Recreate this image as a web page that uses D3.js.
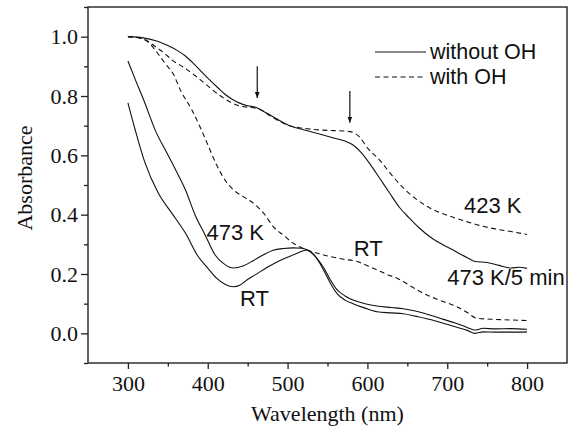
<!DOCTYPE html>
<html>
<head>
<meta charset="utf-8">
<script src="https://cdn.jsdelivr.net/npm/d3@7"></script>
<style>
  html, body { margin: 0; padding: 0; background: #fff; }
  svg { display: block; }
</style>
</head>
<body>
<svg id="chart" width="572" height="430"></svg>
<script>
// Absorption spectra: wavelength (nm) vs absorbance
const xTicks = [300, 400, 500, 600, 700, 800];
const yTicks = [0.0, 0.2, 0.4, 0.6, 0.8, 1.0];

// without OH, 423 K (solid)
const wl423 = [300, 321, 335, 350, 362, 372, 382, 392, 402, 413, 422, 430, 440, 450, 460, 470, 485, 500, 520, 540, 560, 572, 582, 592, 604, 616, 628, 640, 652, 665, 680, 695, 710, 725, 735, 750, 765, 780, 790, 800];
const abs423 = [1.0, 0.995, 0.986, 0.97, 0.953, 0.935, 0.91, 0.882, 0.855, 0.827, 0.805, 0.79, 0.776, 0.767, 0.762, 0.748, 0.725, 0.703, 0.686, 0.672, 0.657, 0.648, 0.635, 0.61, 0.568, 0.52, 0.472, 0.425, 0.39, 0.355, 0.322, 0.298, 0.277, 0.255, 0.242, 0.239, 0.229, 0.22, 0.223, 0.219];

// with OH, 423 K (dashed)
const wl423oh = [300, 315, 325, 335, 345, 355, 372, 392, 413, 430, 442, 455, 465, 480, 500, 515, 530, 550, 570, 580, 590, 600, 615, 630, 645, 660, 680, 700, 720, 740, 760, 780, 800];
const abs423oh = [1.0, 0.995, 0.985, 0.965, 0.946, 0.922, 0.893, 0.852, 0.806, 0.777, 0.765, 0.761, 0.755, 0.73, 0.702, 0.693, 0.688, 0.684, 0.682, 0.679, 0.662, 0.625, 0.585, 0.535, 0.49, 0.455, 0.42, 0.398, 0.38, 0.364, 0.352, 0.343, 0.333];

// without OH, 473 K (solid)
const wl473 = [300, 310, 320, 335, 348, 360, 372, 384, 397, 409, 420, 432, 445, 457, 470, 482, 495, 507, 518, 528, 537, 545, 553, 561, 572, 582, 597, 612, 630, 645, 660, 680, 695, 710, 725, 735, 745, 760, 780, 800];
const abs473 = [0.918, 0.85, 0.785, 0.68, 0.612, 0.55, 0.484, 0.40, 0.33, 0.265, 0.235, 0.22, 0.228, 0.245, 0.265, 0.28, 0.286, 0.288, 0.287, 0.276, 0.252, 0.222, 0.183, 0.15, 0.126, 0.112, 0.1, 0.092, 0.087, 0.083, 0.075, 0.06, 0.047, 0.035, 0.02, 0.011, 0.017, 0.015, 0.016, 0.0135];

// without OH, RT (solid)
const wlRT = [300, 309, 321, 338, 355, 372, 388, 400, 411, 422, 432, 440, 449, 460, 474, 490, 503, 512, 524, 532, 540, 548, 555, 562, 572, 582, 597, 612, 630, 645, 660, 680, 695, 710, 725, 735, 745, 760, 780, 800];
const absRT = [0.777, 0.687, 0.578, 0.473, 0.405, 0.338, 0.259, 0.22, 0.186, 0.165, 0.157, 0.162, 0.18, 0.198, 0.222, 0.245, 0.26, 0.27, 0.281, 0.268, 0.238, 0.198, 0.162, 0.134, 0.112, 0.1, 0.085, 0.073, 0.069, 0.066, 0.058, 0.046, 0.034, 0.022, 0.01, 0.0, 0.005, 0.004, 0.004, 0.005];

// with OH, 473 K / 5 min (dashed)
const wl473oh = [300, 315, 328, 337, 346, 357, 367, 380, 390, 401, 411, 422, 432, 445, 457, 470, 482, 495, 507, 524, 540, 553, 570, 587, 600, 612, 625, 637, 655, 670, 690, 712, 725, 737, 760, 780, 800];
const abs473oh = [1.0, 0.996, 0.975, 0.945, 0.912, 0.873, 0.813, 0.754, 0.698, 0.63, 0.568, 0.515, 0.484, 0.46, 0.439, 0.405, 0.36, 0.33, 0.304, 0.281, 0.268, 0.259, 0.25, 0.242, 0.228, 0.214, 0.198, 0.186, 0.158, 0.135, 0.112, 0.09, 0.07, 0.051, 0.047, 0.045, 0.043];

const seriesNames = ["without OH", "with OH"];
const curveLabels = ["423 K", "473 K/5 min", "473 K", "RT", "RT"];

const SERIF = '"Liberation Serif", "Times New Roman", serif';
const SANS = '"Liberation Sans", Arial, sans-serif';

const svg = d3.select("#chart");
const margin = { left: 88, top: 7, right: 5, bottom: 67 };
const W = 572, H = 430;

const x = d3.scaleLinear().domain([250, 850]).range([margin.left, W - margin.right]);
const y = d3.scaleLinear().domain([-0.1, 1.1]).range([H - margin.bottom, margin.top]);

const zip = (xs, ys) => xs.map((v, i) => [v, ys[i]]);
const line = d3.line().x(d => x(d[0])).y(d => y(d[1])).curve(d3.curveMonotoneX);

const series = [
  { pts: zip(wl423, abs423), dashed: false },
  { pts: zip(wl423oh, abs423oh), dashed: true },
  { pts: zip(wl473, abs473), dashed: false },
  { pts: zip(wlRT, absRT), dashed: false },
  { pts: zip(wl473oh, abs473oh), dashed: true }
];

svg.append("g").selectAll("path").data(series).join("path")
  .attr("d", d => line(d.pts))
  .attr("fill", "none")
  .attr("stroke", "#111")
  .attr("stroke-width", 1.1)
  .attr("stroke-dasharray", d => d.dashed ? "5,3.5" : null);

// Frame
svg.append("rect")
  .attr("x", x.range()[0]).attr("y", y.range()[1])
  .attr("width", x.range()[1] - x.range()[0])
  .attr("height", y.range()[0] - y.range()[1])
  .attr("fill", "none").attr("stroke", "#222").attr("stroke-width", 1.4);

// Bottom axis with minor ticks
const xAxis = svg.append("g").attr("transform", `translate(0,${y.range()[0]})`);
xAxis.call(d3.axisBottom(x).tickValues(xTicks).tickSize(6).tickPadding(6).tickFormat(d3.format("d")));
xAxis.append("g").call(d3.axisBottom(x).tickValues(d3.range(350, 850, 100)).tickSize(3.5).tickFormat(""));

// Left axis with minor ticks
const yAxis = svg.append("g").attr("transform", `translate(${x.range()[0]},0)`);
yAxis.call(d3.axisLeft(y).tickValues(yTicks).tickSize(7).tickPadding(3).tickFormat(d3.format(".1f")));
yAxis.append("g").call(d3.axisLeft(y).tickValues([-0.1, 0.1, 0.3, 0.5, 0.7, 0.9, 1.1]).tickSize(4).tickFormat(""));

svg.selectAll(".domain").remove();
svg.selectAll(".tick line").attr("stroke", "#222").attr("stroke-width", 1.3);
svg.selectAll(".tick text")
  .style("font-family", SERIF)
  .style("font-size", "22px")
  .attr("fill", "#111");

// Axis titles
svg.append("text")
  .attr("x", (x.range()[0] + x.range()[1]) / 2).attr("y", 421)
  .attr("text-anchor", "middle").attr("fill", "#111")
  .style("font-family", SERIF).style("font-size", "22px")
  .text("Wavelength (nm)");

svg.append("text")
  .attr("transform", `translate(32,178) rotate(-90)`)
  .attr("text-anchor", "middle").attr("fill", "#111")
  .style("font-family", SERIF).style("font-size", "22px")
  .text("Absorbance");

// Arrows marking the shoulders
const defs = svg.append("defs");
defs.append("marker").attr("id", "head")
  .attr("viewBox", "0 0 10 10").attr("refX", 10).attr("refY", 5)
  .attr("markerWidth", 6).attr("markerHeight", 6).attr("markerUnits", "userSpaceOnUse")
  .attr("orient", "auto")
  .append("path").attr("d", "M0,1 L10,5 L0,9 Z").attr("fill", "#111");

const arrows = [
  { wl: 462, from: 0.90, to: 0.793 },
  { wl: 578, from: 0.817, to: 0.71 }
];
svg.append("g").selectAll("line").data(arrows).join("line")
  .attr("x1", d => x(d.wl)).attr("x2", d => x(d.wl))
  .attr("y1", d => y(d.from)).attr("y2", d => y(d.to))
  .attr("stroke", "#111").attr("stroke-width", 1.2)
  .attr("marker-end", "url(#head)");

// Curve labels
const labelPos = [
  { wl: 721, a: 0.407 },
  { wl: 700, a: 0.163 },
  { wl: 398.5, a: 0.313 },
  { wl: 440.5, a: 0.093 },
  { wl: 583, a: 0.259 }
];
svg.append("g").selectAll("text").data(curveLabels).join("text")
  .attr("x", (d, i) => x(labelPos[i].wl)).attr("y", (d, i) => y(labelPos[i].a))
  .attr("fill", "#111")
  .style("font-family", SANS).style("font-size", "22px")
  .text(d => d);

// Legend
const legend = svg.append("g").attr("transform", "translate(375,52)");
seriesNames.forEach((name, i) => {
  const g = legend.append("g").attr("transform", `translate(0,${i * 25})`);
  g.append("line").attr("x1", 0).attr("x2", 51).attr("y1", 0).attr("y2", 0)
    .attr("stroke", "#111").attr("stroke-width", 1.1)
    .attr("stroke-dasharray", i === 1 ? "5,3.5" : null);
  g.append("text")
    .attr("x", 55).attr("y", 6.5)
    .attr("fill", "#111")
    .style("font-family", SANS).style("font-size", "21.5px")
    .text(name);
});
</script>
</body>
</html>
